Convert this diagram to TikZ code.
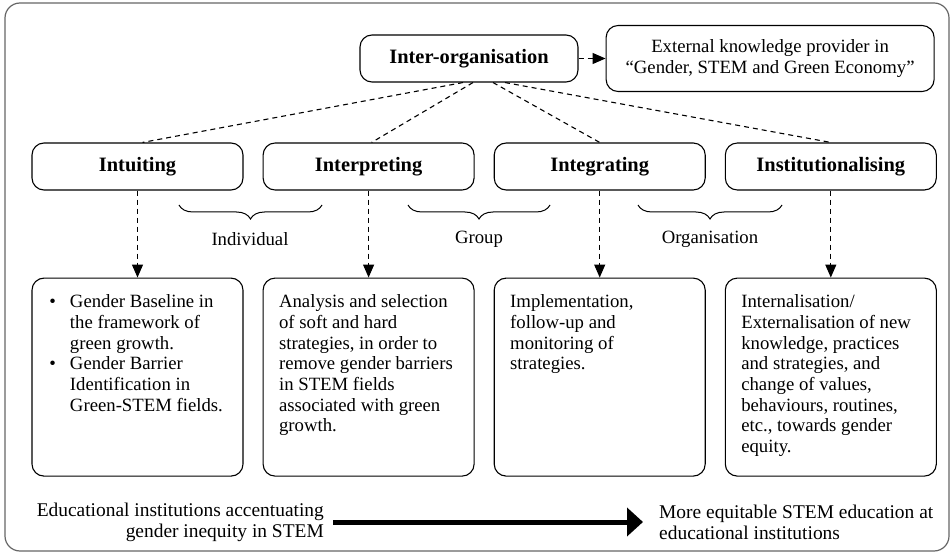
\documentclass[tikz,border=0pt]{standalone}
\usepackage{fontspec}
\setmainfont{Liberation Serif}
\usetikzlibrary{arrows.meta,positioning,decorations.pathreplacing}

% text block of the lower boxes, set from the top
\newcommand{\boxtext}[1]{\parbox[c][168bp][t]{179bp}{\raggedright\strut#1}}
\newcommand{\bitem}{\leavevmode\llap{\textbullet\hspace{14bp}}}

\begin{document}
\begin{tikzpicture}[x=1bp,y=-1bp,font=\fontsize{18.8}{20.8}\selectfont,node distance=19bp and 19bp,box/.style={draw,line width=1.1bp,rounded corners=12bp,align=center,minimum width=211bp,minimum height=47bp,inner sep=0pt},head/.style={box,font=\fontsize{20.5}{24}\selectfont\bfseries},info/.style={box,minimum height=198bp},link/.style={line width=1.1bp,dash pattern=on 5bp off 4bp},arr/.style={link,-{Triangle[length=13bp,width=11bp]}},brc/.style={decorate,decoration={brace,mirror,amplitude=14bp},line width=1bp},state/.style={inner sep=0pt,font=\fontsize{19.5}{21}\selectfont}]
\useasboundingbox (0,0) rectangle (951,556);
\draw[gray!80!black,line width=1.2bp,rounded corners=15bp] (5,3) rectangle (949,551);
\node[head,minimum width=218bp] (inter) at (469,58.5) {Inter-organisation};
\node[box,right=27bp of inter,minimum width=328bp,minimum height=66bp] (ext) {External knowledge provider in\\``Gender, STEM and Green Economy''};
\node[head] (intu) at (137.5,166.5) {Intuiting};
\node[head,right=of intu] (intp) {Interpreting};
\node[head,right=of intp] (intg) {Integrating};
\node[head,right=of intg] (inst) {Institutionalising};
\node[info,below=87bp of intu] (baseline) {\boxtext{\leftskip=22bp\bitem Gender Baseline in\\the framework of\\green growth.\par\bitem Gender Barrier\\Identification in\\Green-STEM fields.}};
\node[info,below=87bp of intp] (analysis) {\boxtext{Analysis and selection\\of soft and hard\\strategies, in order to\\remove gender barriers\\in STEM fields\\associated with green\\growth.}};
\node[info,below=87bp of intg] (impl) {\boxtext{Implementation,\\follow-up and\\monitoring of\\strategies.}};
\node[info,below=87bp of inst] (intern) {\boxtext{Internalisation/\\Externalisation of new\\knowledge, practices\\and strategies, and\\change of values,\\behaviours, routines,\\etc., towards gender\\equity.}};
\draw[arr] (inter)--(ext);
\draw[link] ([xshift=-6bp]inter.south)--([xshift=5bp]intu.north);\draw[link] ([xshift=4bp]inter.south)--([xshift=3bp]intp.north);\draw[link] ([xshift=24bp]inter.south)--(intg.north);\draw[link] ([xshift=36bp]inter.south)--(inst.north);
\draw[arr] (intu)--(baseline);\draw[arr] (intp)--(analysis);\draw[arr] (intg)--(impl);\draw[arr] (inst)--(intern);
% levels of learning
\draw[brc] (179,205)--(322,205);\draw[brc] (408,205)--(550,205);\draw[brc] (638,205)--(782,205);
\node (indiv) at (250,239) {Individual};
\node (group) at (479,239) {Group};
\node (org) at (710,239) {Organisation};
\node[state,anchor=east,align=right] (now) at (324,522) {Educational institutions accentuating\\gender inequity in STEM};
\node[state,anchor=west,align=left] (goal) at (659,522) {More equitable STEM education at\\educational institutions};
\draw[line width=5bp,-{Triangle[length=16bp,width=28bp]},shorten <=9bp,shorten >=16bp] (now)--(goal);
\end{tikzpicture}
\end{document}
